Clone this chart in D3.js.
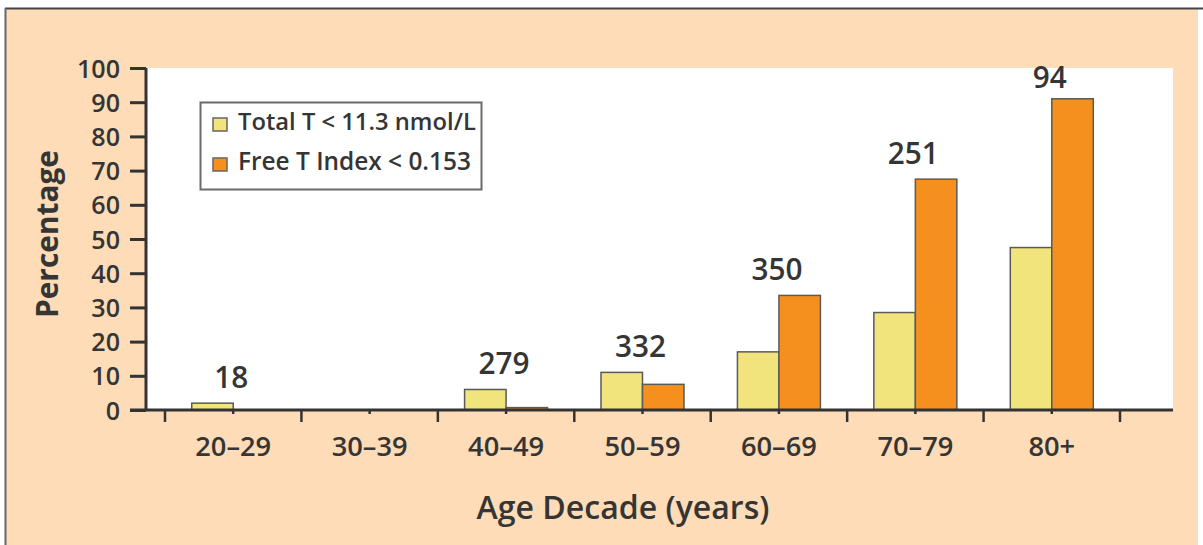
<!DOCTYPE html>
<html><head><meta charset="utf-8">
<script src="https://cdn.jsdelivr.net/npm/d3@7"></script>
<style>html,body{margin:0;padding:0;background:#fff;}svg{display:block;}</style>
</head><body>
<script>
const categories = ["20–29","30–39","40–49","50–59","60–69","70–79","80+"];
const totalT = [2, 0, 6, 11, 17, 28.5, 47.5];
const freeT = [0, 0, 0.7, 7.5, 33.5, 67.5, 91];
const counts = ["18", "", "279", "332", "350", "251", "94"];
const yTicks = [0,10,20,30,40,50,60,70,80,90,100];
const seriesNames = ["Total T < 11.3 nmol/L", "Free T Index < 0.153"];
const colors = ["#f1e47c", "#f5901e"];

const W = 1203, H = 545;
const FONT = "'Open Sans', 'DejaVu Sans', sans-serif";
const TXT = "#353535";
const svg = d3.select("body").append("svg").attr("width", W).attr("height", H);

// page background and frame
svg.append("rect").attr("x",0).attr("y",0).attr("width",W).attr("height",H).attr("fill","#ffffff");
svg.append("rect").attr("x",6).attr("y",9).attr("width",1192).attr("height",536).attr("fill","#fddcb7");
svg.append("line").attr("x1",5).attr("x2",W).attr("y1",8.5).attr("y2",8.5).attr("stroke","#444").attr("stroke-width",2);
svg.append("line").attr("x1",5.5).attr("x2",5.5).attr("y1",8).attr("y2",H).attr("stroke","#666").attr("stroke-width",2);

// plot area
const plotL = 147, plotR = 1173, plotT = 68, plotB = 410;
svg.append("rect").attr("x",plotL).attr("y",plotT).attr("width",plotR-plotL).attr("height",plotB-plotT).attr("fill","#ffffff");

const x = d3.scaleBand().domain(categories).range([165, 1120]).padding(0);
const y = d3.scaleLinear().domain([0,100]).range([plotB, plotT]);
const step = x.step();
const barW = 41.5;
const cx = c => x(c) + step/2;

// fit helper: scale font-size so the text spans the target width
function fit(sel, target){
  const n = sel.node();
  const fs = parseFloat(sel.attr("font-size"));
  const w = n.getComputedTextLength();
  if (w > 0) sel.attr("font-size", (fs*target/w).toFixed(2));
  return sel;
}

// bars
const g = svg.append("g");
categories.forEach((c,i)=>{
  const vals = [totalT[i], freeT[i]];
  vals.forEach((v,j)=>{
    if (v <= 0) return;
    const x0 = j===0 ? cx(c)-barW : cx(c);
    g.append("rect")
      .attr("x", x0).attr("y", y(v))
      .attr("width", barW).attr("height", y(0)-y(v))
      .attr("fill", colors[j]).attr("stroke","#5a5a5a").attr("stroke-width",1.5);
  });
});

// y axis
const yAxis = d3.axisLeft(y).tickValues(yTicks).tickSize(16).tickPadding(10);
const ya = svg.append("g").attr("transform",`translate(${plotL-1},0)`).call(yAxis);
ya.select(".domain").attr("stroke","#333").attr("stroke-width",3).attr("d",`M0,${plotT}V${plotB}`);
ya.selectAll(".tick line").attr("stroke","#333").attr("stroke-width",3);
ya.selectAll(".tick text").attr("font-family",FONT).attr("font-weight",600).attr("font-size",19).attr("fill",TXT).attr("dy","0.36em");
// size tick labels to match: "100" ≈ 43px wide
{
  const t100 = ya.selectAll(".tick text").filter(d=>d===100);
  const w = t100.node().getComputedTextLength();
  const fs = (19*43/w).toFixed(2);
  ya.selectAll(".tick text").attr("font-size", fs);
}

// x axis line
svg.append("line").attr("x1",130).attr("x2",plotR).attr("y1",plotB).attr("y2",plotB).attr("stroke","#333").attr("stroke-width",3);
// boundary ticks (major) and center ticks (minor)
const bounds = categories.map(c=>x(c)).concat([x(categories[categories.length-1])+step]);
svg.append("g").selectAll("line").data(bounds).join("line")
  .attr("x1",d=>d).attr("x2",d=>d).attr("y1",plotB).attr("y2",plotB+12)
  .attr("stroke","#333").attr("stroke-width",2.5);
svg.append("g").selectAll("line").data(categories).join("line")
  .attr("x1",d=>cx(d)).attr("x2",d=>cx(d)).attr("y1",plotB).attr("y2",plotB+4)
  .attr("stroke","#333").attr("stroke-width",2.5);
// x tick labels
const xl = svg.append("g").selectAll("text").data(categories).join("text")
  .attr("x",d=>cx(d)).attr("y",456).attr("text-anchor","middle")
  .attr("font-family",FONT).attr("font-weight",600).attr("font-size",19).attr("fill",TXT)
  .text(d=>d);
{
  const w = xl.filter((d,i)=>i===0).node().getComputedTextLength();
  xl.attr("font-size", (19*76/w).toFixed(2));
}

// counts
const cl = [];
categories.forEach((c,i)=>{
  if (!counts[i]) return;
  const top = y(Math.max(totalT[i], freeT[i]));
  cl.push(svg.append("text").attr("x",cx(c)-2).attr("y",Math.max(top-15, 88)).attr("text-anchor","middle")
    .attr("font-family",FONT).attr("font-weight",600).attr("font-size",22).attr("fill",TXT)
    .text(counts[i]));
});
{
  const ref = cl[3]; // "350"
  const w = ref.node().getComputedTextLength();
  const fs = (22*51/w).toFixed(2);
  cl.forEach(t=>t.attr("font-size", fs));
}

// axis titles
const yt = svg.append("text").attr("transform","translate(58,234) rotate(-90)").attr("text-anchor","middle")
  .attr("font-family",FONT).attr("font-weight",700).attr("font-size",24).attr("fill",TXT).text("Percentage");
fit(yt,168);
const xt = svg.append("text").attr("x",623).attr("y",519).attr("text-anchor","middle")
  .attr("font-family",FONT).attr("font-weight",600).attr("font-size",26).attr("fill",TXT).text("Age Decade (years)");
fit(xt,293);

// legend
const lg = svg.append("g");
lg.append("rect").attr("x",200.5).attr("y",102.5).attr("width",281).attr("height",87)
  .attr("fill","#ffffff").attr("stroke","#6a6a6a").attr("stroke-width",2);
seriesNames.forEach((s,i)=>{
  const yy = 118 + i*40;
  lg.append("rect").attr("x",213).attr("y",yy).attr("width",14).attr("height",13)
    .attr("fill",colors[i]).attr("stroke","#666").attr("stroke-width",1.5);
  const t = lg.append("text").attr("x",238).attr("y",yy+12).attr("font-family",FONT).attr("font-weight",600)
    .attr("font-size",19).attr("fill",TXT).text(s);
  fit(t, i===0 ? 238 : 233);
});
</script>
</body></html>
